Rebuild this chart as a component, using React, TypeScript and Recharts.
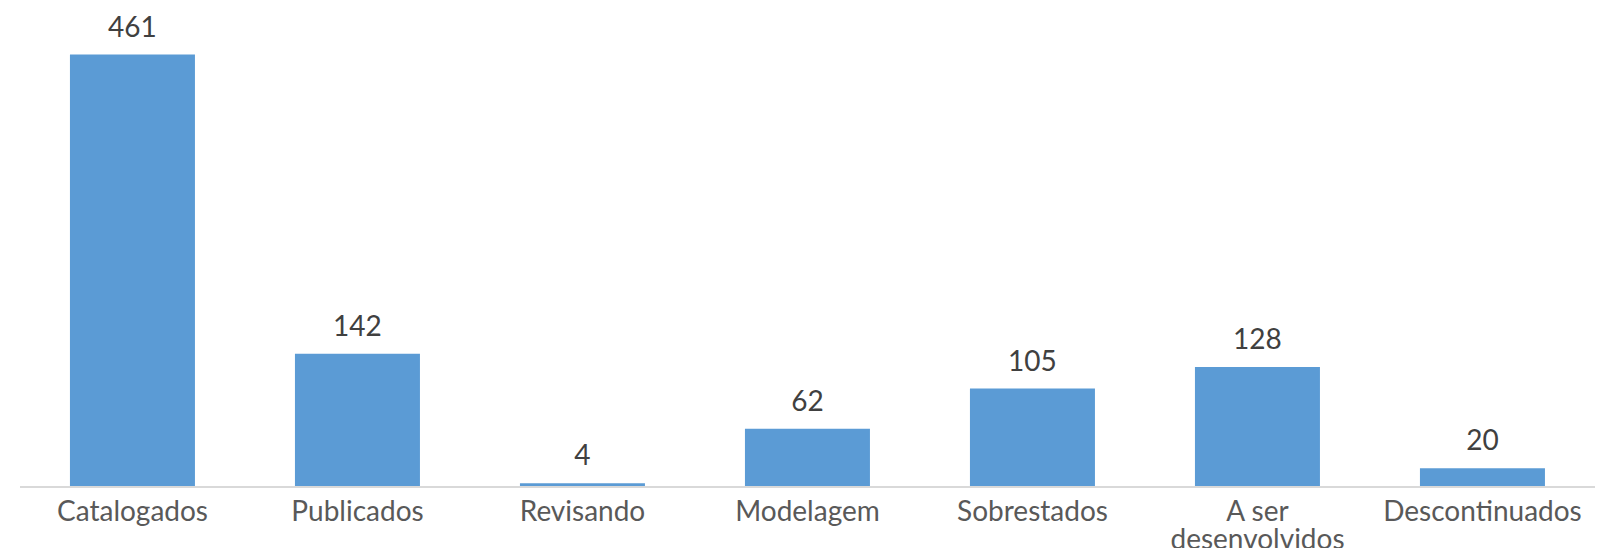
import React from "react";
import { BarChart, Bar, XAxis, YAxis, LabelList } from "recharts";

const categories = [
  "Catalogados",
  "Publicados",
  "Revisando",
  "Modelagem",
  "Sobrestados",
  "A ser desenvolvidos",
  "Descontinuados",
];
const values = [461, 142, 4, 62, 105, 128, 20];

const data = categories.map((c, i) => ({ name: c, value: values[i] }));

const FONT = "Lato, 'Open Sans', sans-serif";

const CategoryTick = (props: any) => {
  const { x, y, payload } = props;
  const label: string = payload.value;
  const lines = label === "A ser desenvolvidos" ? ["A ser", "desenvolvidos"] : [label];
  return (
    <g>
      {lines.map((ln, i) => (
        <text
          key={i}
          x={x}
          y={y + 26 + i * 28}
          textAnchor="middle"
          fill="#595959"
          fontSize={28}
          fontFamily={FONT}
        >
          {ln}
        </text>
      ))}
    </g>
  );
};

export default function App() {
  return (
    <div style={{ width: 1601, height: 540, background: "#fff" }}>
      <style>{"svg.recharts-surface { overflow: visible; }"}</style>
      <BarChart
        width={1601}
        height={540}
        data={data}
        margin={{ top: 10, right: 14, left: 12, bottom: 0 }}
        barCategoryGap="22.2%"
      >
        <XAxis
          dataKey="name"
          interval={0}
          tickLine={false}
          axisLine={{ stroke: "#D9D9D9", strokeWidth: 2 }}
          tick={<CategoryTick />}
          height={61}
        />
        <YAxis hide domain={[0, 500]} />
        <Bar dataKey="value" fill="#5B9BD5" isAnimationActive={false}>
          <LabelList
            dataKey="value"
            position="top"
            offset={18}
            fill="#404040"
            fontSize={28}
            fontFamily={FONT}
          />
        </Bar>
      </BarChart>
    </div>
  );
}
